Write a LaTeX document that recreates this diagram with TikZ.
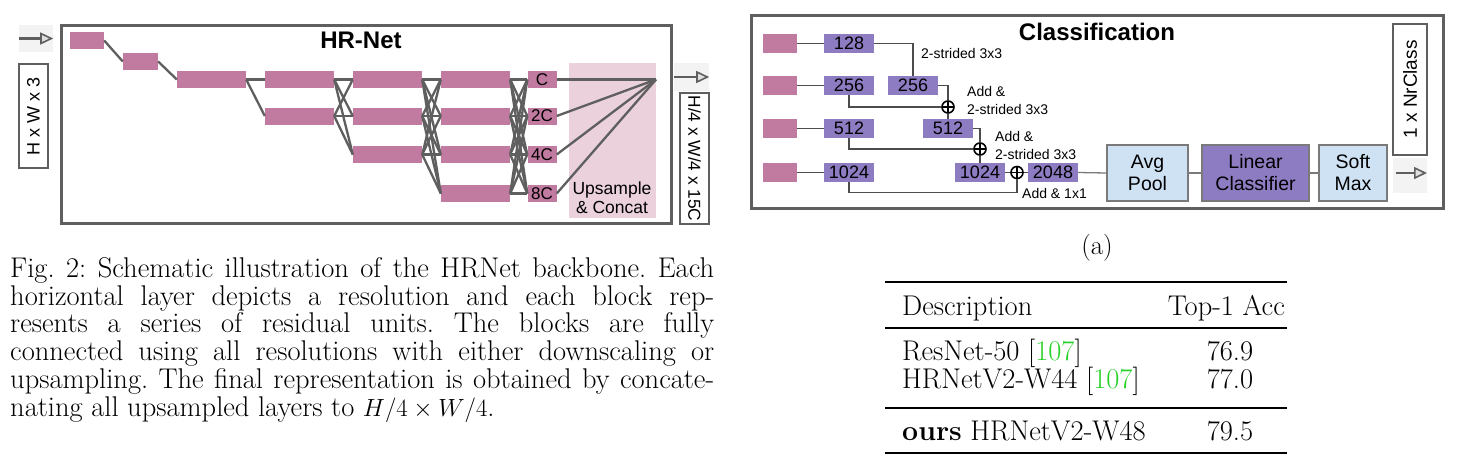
\documentclass[tikz,border=0pt]{standalone}
\usepackage{fontspec}
\newfontfamily\arial{Liberation Sans}
\usetikzlibrary{arrows.meta}
\definecolor{pk}{HTML}{C27BA0}
\definecolor{pu}{HTML}{8E7CC3}
\definecolor{lb}{HTML}{CFE2F3}
\definecolor{pkbg}{HTML}{EAD1DC}
\definecolor{gbg}{HTML}{F3F3F3}
\definecolor{ln}{HTML}{5F5F5F}
\definecolor{bx}{HTML}{7A7A7A}
\definecolor{citegreen}{RGB}{40,210,40}
\frenchspacing
\begin{document}
\begin{tikzpicture}[x=1pt,y=-1pt,
 conn/.style={draw=ln, line width=2.3pt},
 cconn/.style={draw=ln!80!black, line width=1.3pt},
 pblk/.style={fill=pk, inner sep=0, minimum height=17pt, font=\arial\fontsize{17}{18}\selectfont},
 cpink/.style={fill=pk, inner sep=0, minimum width=34pt, minimum height=19pt},
 cpur/.style={fill=pu, inner sep=0, minimum width=50pt, minimum height=19pt, font=\arial\fontsize{18}{19}\selectfont},
 lbox/.style={draw=ln, line width=1.5pt, fill=white, inner sep=0, font=\arial\fontsize{18}{19}\selectfont},
 gbox/.style={fill=gbg, inner sep=0},
 arr/.style={draw=ln, line width=2.5pt, -{Triangle[length=13pt,width=12pt,fill=gray!25,line width=1.6pt]}},
 frame/.style={draw=ln, line width=3pt, inner sep=0},
 opl/.style={circle, draw=black, line width=1.6pt, inner sep=0, minimum size=12pt,
   path picture={\draw[line width=1.6pt] (path picture bounding box.north) -- (path picture bounding box.south) (path picture bounding box.west) -- (path picture bounding box.east);}},
 cbox/.style={draw=bx, line width=1.3pt, inner sep=0, minimum height=56pt, align=center, font=\arial\fontsize{19.5}{22}\selectfont},
 smalltxt/.style={font=\arial\fontsize{14}{18}\selectfont, inner sep=0, align=left},
 title/.style={font=\arial\bfseries\fontsize{24}{26}\selectfont, inner sep=0},
 captxt/.style={font=\fontsize{28.5}{33}\selectfont, inner sep=0, anchor=base west},
]
\useasboundingbox (0,0) rectangle (1460,456);
\fill[white] (0,0) rectangle (1460,456);

% ================= HR-Net =================
\node[gbox, minimum width=34pt, minimum height=27pt] (inbg) at (36,38.5) {};
\draw[arr] (inbg.west) -- (inbg.east);
\node[lbox, rotate=90, minimum width=104pt, minimum height=29pt] (inlab) at (33.5,116) {H x W x 3};

\node[frame, minimum width=610pt, minimum height=198pt] (hrf) at (366,124) {};
\node[title] (hrt) at (361,40) {HR-Net};
\node[fill=pkbg, inner sep=0, minimum width=87pt, minimum height=155pt] (upbg) at (612.5,140.5) {};
\node[inner sep=0, align=center, font=\arial\fontsize{17.5}{19}\selectfont] (uptxt) at (612,198) {Upsample\\\& Concat};

\node[pblk, minimum width=34pt] (b1) at (87,40.5) {};
\node[pblk, minimum width=35pt] (b2) at (140.5,61.5) {};
\node[pblk, minimum width=69pt] (b3) at (211.5,79.5) {};

\node[pblk, minimum width=69pt] (s21) at (299.5,79.5) {};
\node[pblk, minimum width=69pt] (s22) at (299.5,116) {};

\node[pblk, minimum width=69pt] (s31) at (387.5,79.5) {};
\node[pblk, minimum width=69pt] (s32) at (387.5,116) {};
\node[pblk, minimum width=69pt] (s33) at (387.5,154.5) {};

\node[pblk, minimum width=69pt] (s41) at (475.5,79.5) {};
\node[pblk, minimum width=69pt] (s42) at (475.5,116) {};
\node[pblk, minimum width=69pt] (s43) at (475.5,154.5) {};
\node[pblk, minimum width=69pt] (s44) at (475.5,193.5) {};

\node[pblk, minimum width=29pt] (oc1) at (542,79.5) {C};
\node[pblk, minimum width=29pt] (oc2) at (542,116) {2C};
\node[pblk, minimum width=29pt] (oc3) at (542,154.5) {4C};
\node[pblk, minimum width=29pt] (oc4) at (542,193.5) {8C};

\coordinate (merge) at (656,79.5);

\draw[conn] (b1.east) -- (b2.west);
\draw[conn] (b2.east) -- (b3.west);
\draw[conn] (b3.east) -- (s21.west);
\draw[conn] (b3.east) -- (s22.west);
\foreach \i in {1,2} \foreach \j in {1,2,3} \draw[conn] (s2\i.east) -- (s3\j.west);
\foreach \i in {1,2,3} \foreach \j in {1,2,3,4} \draw[conn] (s3\i.east) -- (s4\j.west);
\foreach \i in {1,2,3,4} \foreach \j in {1,2,3,4} \draw[conn] (s4\i.east) -- (oc\j.west);
\foreach \j in {1,2,3,4} \draw[conn] (oc\j.east) -- (merge);

\node[gbox, minimum width=35pt, minimum height=28pt] (outbg) at (691.5,77) {};
\draw[arr] (outbg.west) -- (outbg.east);
\node[lbox, rotate=-90, minimum width=131pt, minimum height=29pt, font=\arial\fontsize{17.3}{19}\selectfont] (outlab) at (694.5,158.5) {H/4 x W/4 x 15C};

% ================= Classification =================
\node[frame, minimum width=692pt, minimum height=193pt] (clf) at (1097,111.5) {};
\node[title] (clt) at (1097,32) {Classification};

\node[cpink] (p1) at (780,43.5) {};
\node[cpink] (p2) at (780,85.5) {};
\node[cpink] (p3) at (780,128.5) {};
\node[cpink] (p4) at (780,172.5) {};

\node[cpur] (c128) at (849,43.5) {128};
\node[cpur] (c256) at (849,85.5) {256};
\node[cpur] (c512) at (849,128.5) {512};
\node[cpur] (c1024) at (849,172.5) {1024};

\node[cpur] (c256b) at (913,85.5) {256};
\node[cpur] (c512b) at (948,128.5) {512};
\node[cpur] (c1024b) at (980,172.5) {1024};
\node[cpur] (c2048) at (1053,172.5) {2048};

\node[opl] (ox1) at (948,107) {};
\node[opl] (ox2) at (980,149) {};
\node[opl] (ox3) at (1017,172.5) {};

\draw[cconn] (p1.east) -- (c128.west);
\draw[cconn] (p2.east) -- (c256.west);
\draw[cconn] (p3.east) -- (c512.west);
\draw[cconn] (p4.east) -- (c1024.west);

\draw[cconn] (c128.east) -| (c256b.north);
\draw[cconn] (c256b.east) -| (ox1.north);
\draw[cconn] (c256.south) |- (ox1.west);
\draw[cconn] (ox1.south) -- (c512b.north);
\draw[cconn] (c512b.east) -| (ox2.north);
\draw[cconn] (c512.south) |- (ox2.west);
\draw[cconn] (ox2.south) -- (c1024b.north);
\draw[cconn] (c1024b.east) -- (ox3.west);
\draw[cconn] (ox3.east) -- (c2048.west);
\draw[cconn] (c1024.south) -- ([yshift=-10pt]c1024.south) -| (ox3.south);

\node[smalltxt, anchor=west] (t1) at (921,53) {2-strided 3x3};
\node[smalltxt, anchor=west] (t2) at (967,100) {Add \&\\2-strided 3x3};
\node[smalltxt, anchor=west] (t3) at (995,145.5) {Add \&\\2-strided 3x3};
\node[smalltxt, anchor=west] (t4) at (1022,193) {Add \& 1x1};

\node[cbox, fill=lb, minimum width=81pt] (avg) at (1147.5,173) {Avg\\Pool};
\node[cbox, fill=pu, minimum width=107pt] (lin) at (1255.5,173) {Linear\\Classifier};
\node[cbox, fill=lb, minimum width=68pt] (soft) at (1353,173) {Soft\\Max};
\draw[draw=bx, line width=1.3pt] (c2048.east) -- (avg.west);
\draw[draw=bx, line width=1.3pt] (avg.east) -- (lin.west);
\draw[draw=bx, line width=1.3pt] (lin.east) -- (soft.west);

\node[lbox, rotate=90, minimum width=131pt, minimum height=34pt, font=\arial\fontsize{19}{20}\selectfont] (nrc) at (1410,89.5) {1 x NrClass};
\node[gbox, minimum width=34pt, minimum height=35pt] (cobg) at (1410,175.5) {};
\coordinate (coa) at (1396,173);
\coordinate (cob) at (1427,173);
\draw[arr] (coa) -- (cob);

\node[inner sep=0, font=\fontsize{27}{30}\selectfont] (suba) at (1097,248) {(a)};

% ================= Caption =================
\node[captxt] (cap1) at (10,277) {\makebox[704pt][s]{Fig. 2: Schematic illustration of the HRNet backbone. Each}};
\node[captxt] (cap2) at (10,305) {\makebox[704pt][s]{horizontal layer depicts a resolution and each block rep-}};
\node[captxt] (cap3) at (10,332.5) {\makebox[704pt][s]{resents a series of residual units. The blocks are fully}};
\node[captxt] (cap4) at (10,360) {\makebox[704pt][s]{connected using all resolutions with either downscaling or}};
\node[captxt] (cap5) at (10,388) {\makebox[704pt][s]{upsampling. The final representation is obtained by concate-}};
\node[captxt] (cap6) at (10,416) {nating all upsampled layers to $H/4\times W/4$.};

% ================= Table =================
\draw[line width=2.6pt] (885,282) -- (1287,282);
\draw[line width=1.4pt] (885,328) -- (1287,328);
\draw[line width=1.4pt] (885,408) -- (1287,408);
\draw[line width=2.6pt] (885,453) -- (1287,453);
\node[captxt] (h1) at (902,315) {Description};
\node[captxt, anchor=base east] (h2) at (1285,315) {Top-1 Acc};
\node[captxt] (r1) at (902,360) {ResNet-50 [\textcolor{citegreen}{107}]};
\node[captxt] (r2) at (902,388) {HRNetV2-W44 [\textcolor{citegreen}{107}]};
\node[captxt] (r3) at (902,440) {\textbf{ours} HRNetV2-W48};
\node[captxt, anchor=base] (v1) at (1230,360) {76.9};
\node[captxt, anchor=base] (v2) at (1230,388) {77.0};
\node[captxt, anchor=base] (v3) at (1230,440) {79.5};
\end{tikzpicture}
\end{document}
